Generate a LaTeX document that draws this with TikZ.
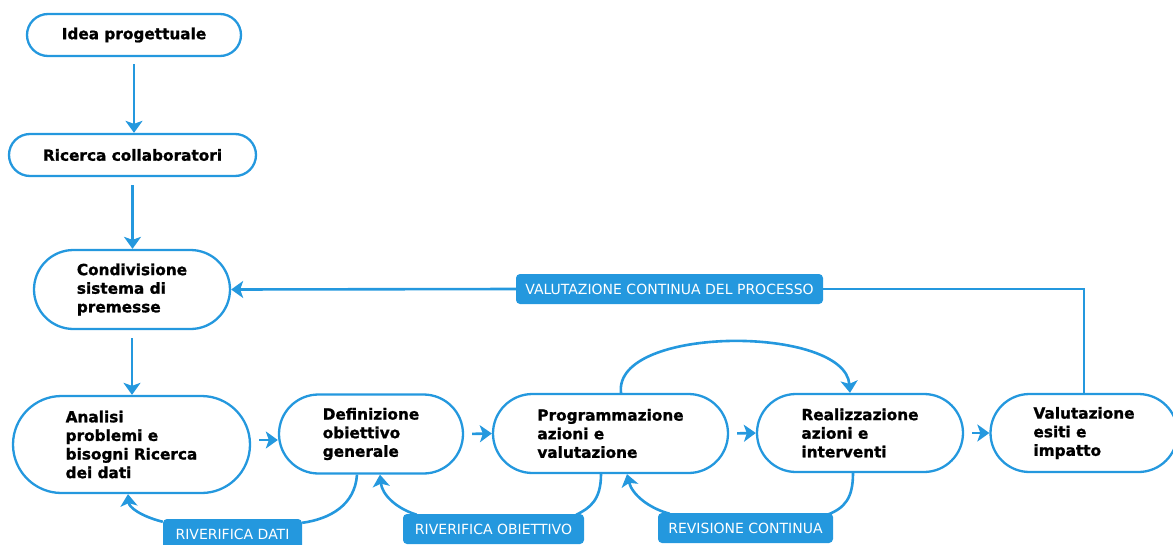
\documentclass[tikz,border=0pt]{standalone}
\usepackage{fontspec}
\setmainfont{DejaVu Sans}
\newfontfamily\stepfont{DejaVu Sans}[BoldFeatures={FakeBold=1.2}]
\usetikzlibrary{arrows.meta}
\definecolor{flowblue}{RGB}{36,152,222}
\begin{document}
\begin{tikzpicture}[x=1pt,y=-1pt,
  stepbox/.style={draw=flowblue,line width=2.3pt,fill=white,inner sep=0pt,
    align=left,font=\stepfont\bfseries\fontsize{15.3}{18.6}\selectfont},
  tagbox/.style={fill=flowblue,rounded corners=4pt,inner sep=0pt,text=white,
    minimum height=30pt,font=\fontsize{14}{16}\selectfont},
  link/.style={draw=flowblue,line width=2.6pt},
  arr/.style={link,-{Stealth[length=12pt,width=17pt,inset=3pt]}}]
\useasboundingbox (0,0) rectangle (1173,544);

% process steps (stadium shaped boxes)
\node[stepbox,minimum width=214pt,minimum height=42pt,rounded corners=21pt] (idea) at (134,35) {Idea progettuale};
\node[stepbox,minimum width=247pt,minimum height=42pt,rounded corners=21pt] (ricerca) at (132.5,155) {Ricerca collaboratori};
\node[stepbox,minimum width=196pt,minimum height=79pt,rounded corners=39.5pt] (condiv) at (132,289.5) {Condivisione\\sistema di\\premesse};
\node[stepbox,minimum width=237pt,minimum height=97pt,rounded corners=48.5pt] (analisi) at (131.5,444.5) {Analisi\\problemi e\\bisogni Ricerca\\dei dati};
\node[stepbox,minimum width=184pt,minimum height=79pt,rounded corners=39.5pt] (defin) at (371,434) {Definizione\\obiettivo\\generale};
\node[stepbox,minimum width=235pt,minimum height=79pt,rounded corners=39.5pt] (progr) at (610.5,433.5) {Programmazione\\azioni e\\valutazione};
\node[stepbox,minimum width=206pt,minimum height=78pt,rounded corners=39pt] (realiz) at (860,433) {Realizzazione\\azioni e\\interventi};
\node[stepbox,minimum width=187pt,minimum height=78pt,rounded corners=39pt] (valut) at (1084,433) {Valutazione\\esiti e\\impatto};

% feedback tags
\node[tagbox,minimum width=307pt] (tval) at (669.5,289) {VALUTAZIONE CONTINUA DEL PROCESSO};
\node[tagbox,minimum width=139pt] (tdati) at (232.5,534) {RIVERIFICA DATI};
\node[tagbox,minimum width=181pt] (tobj) at (493.5,529) {RIVERIFICA OBIETTIVO};
\node[tagbox,minimum width=175pt] (trev) at (745.5,528) {REVISIONE CONTINUA};

% main vertical chain
\draw[arr,shorten <=7pt] (idea.south) -- (idea.south |- ricerca.north);
\draw[arr,shorten <=8pt] (ricerca.south) -- (ricerca.south |- condiv.north);
\draw[arr,shorten <=8pt] (condiv.south) -- (condiv.south |- analisi.north);

% horizontal chain
\draw[arr] ([xshift=8pt]analisi.east |- 0,440) -- (defin.west |- 0,440);
\draw[arr,shorten <=8pt] (defin.east) -- (progr.west);
\draw[arr,shorten <=8pt] (progr.east) -- (realiz.west);
\draw[arr,shorten <=8pt] (realiz.east) -- (valut.west);

% jump from programming to realisation
\draw[arr] ([xshift=10.5pt]progr.north) .. controls (613,325) and (845,325) .. ([xshift=-10pt]realiz.north);

% continuous evaluation loop back to the premises
\draw[link] (valut.north) |- (tval.east);
\draw[arr] (tval.west) -- (condiv.east);

% local feedback loops
\draw[link] ([xshift=-14pt]defin.south) .. controls (355,505) and (330,519) .. ([shift={(0,4)}]tdati.north east);
\draw[arr] ([shift={(0,3)}]tdati.north west) .. controls (140,516) and (129,507) .. ([xshift=-3.5pt]analisi.south);

\draw[link] ([xshift=-9.5pt]progr.south) .. controls (601,500) and (590,508) .. ([shift={(-8,1)}]tobj.north east);
\draw[arr] ([shift={(14,1)}]tobj.north west) .. controls (395,508) and (382,494) .. ([xshift=9pt]defin.south);

\draw[link] ([xshift=-7pt]realiz.south) .. controls (853,498) and (845,508) .. ([shift={(-6,2)}]trev.north east);
\draw[arr] ([shift={(12,1)}]trev.north west) .. controls (648,508) and (632,494) .. ([xshift=16.5pt]progr.south);
\end{tikzpicture}
\end{document}
